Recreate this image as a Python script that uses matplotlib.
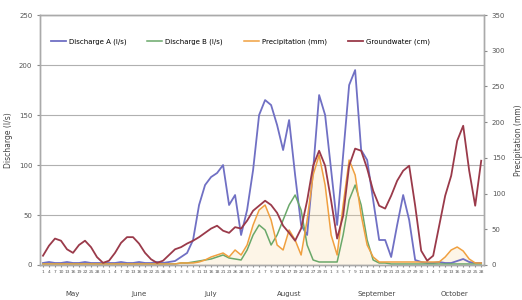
import matplotlib
matplotlib.use("Agg")
import matplotlib.pyplot as plt
import matplotlib.transforms as mtransforms
import numpy as np

# categories: day-of-month labels grouped by month
months = ["May", "June", "July", "August", "September", "October"]
days_may = [1, 4, 7, 10, 13, 16, 19, 22, 25, 28, 31]
days_jun = [1, 4, 7, 10, 13, 16, 19, 22, 25, 28, 30]
days_jul = [1, 3, 6, 8, 11, 13, 16, 18, 21, 23, 26, 28, 31]
days_aug = [2, 4, 7, 9, 12, 14, 17, 19, 22, 24, 27, 29, 31]
days_sep = [1, 3, 5, 7, 9, 11, 13, 15, 17, 19, 21, 23, 25, 27, 29, 30]
days_oct = [1, 4, 7, 10, 13, 16, 19, 22, 25, 28]
month_days = [days_may, days_jun, days_jul, days_aug, days_sep, days_oct]

series_names = ["Discharge A (l/s)", "Discharge B (l/s)",
                "Precipitation (mm)", "Groundwater (cm)"]

discharge_a = [2, 3, 2, 2, 3, 2, 2, 3, 2, 2, 2, 2, 2, 3, 2, 2, 3, 2, 2, 3,
               2, 3, 4, 8, 12, 25, 60, 80, 88, 92, 100, 60, 70, 30, 55, 95,
               150, 165, 160, 140, 115, 145, 90, 40, 30, 95, 170, 150, 95, 40,
               110, 180, 195, 115, 105, 65, 25, 25, 8, 40, 70, 45, 5, 3,
               2, 2, 3, 2, 2, 4, 6, 3, 2, 2]

discharge_b = [1, 1, 1, 1, 1, 1, 1, 1, 1, 1, 1, 1, 1, 1, 1, 1, 1, 1, 1, 1,
               1, 1, 1, 2, 2, 3, 4, 5, 6, 8, 10, 7, 6, 5, 15, 30,
               40, 35, 20, 30, 45, 60, 70, 55, 20, 5, 3, 3, 3, 3,
               30, 65, 80, 60, 25, 5, 2, 2, 1, 1, 1, 1, 1, 1,
               1, 1, 1, 1, 1, 1, 1, 1, 1, 1]

precipitation = [1, 1, 1, 1, 1, 1, 1, 1, 1, 1, 1, 1, 1, 1, 1, 1, 1, 1, 1, 1,
                 1, 1, 1, 2, 2, 2, 3, 5, 8, 10, 12, 8, 15, 10, 20, 40,
                 55, 60, 45, 20, 15, 35, 25, 10, 45, 90, 110, 80, 30, 10,
                 60, 105, 90, 50, 20, 8, 3, 3, 3, 3, 3, 3, 3, 3,
                 3, 3, 3, 8, 15, 18, 14, 6, 2, 2]

groundwater = [13, 27, 37, 34, 22, 17, 28, 34, 25, 11, 3, 6, 17, 31, 39, 39,
               30, 17, 8, 3, 6, 14, 22, 25, 30, 34, 39, 45, 51, 55, 48, 45,
               53, 51, 62, 76, 83, 90, 84, 73, 55, 45, 34, 51, 90, 139, 160,
               139, 90, 37, 69, 139, 163, 160, 135, 104, 83, 79, 97, 118, 132,
               139, 83, 20, 6, 13, 55, 97, 125, 174, 195, 132, 83, 146]

day_labels = [str(d) for grp in month_days for d in grp]
x = np.arange(len(day_labels))

fig = plt.figure(figsize=(5.22, 3.0), dpi=100)
ax = fig.add_axes([0.0766, 0.1167, 0.851, 0.833])
ax2 = ax.twinx()

c_blue = "#7070c4"
c_green = "#6aa86a"
c_orange = "#f0a040"
c_maroon = "#9a3a4a"

ax.fill_between(x, precipitation, color="#f8d8a0", alpha=0.25, lw=0)
ax.plot(x, discharge_a, color=c_blue, lw=1.3, label=series_names[0])
ax.plot(x, discharge_b, color=c_green, lw=1.1, label=series_names[1])
ax.plot(x, precipitation, color=c_orange, lw=1.1, label=series_names[2])
ax2.plot(x, groundwater, color=c_maroon, lw=1.3, label=series_names[3])

ax.set_xlim(-0.5, len(x) - 0.5)
ax.set_ylim(0, 250)
ax.set_yticks(np.arange(0, 251, 50))
ax2.set_ylim(0, 350)
ax2.set_yticks(np.arange(0, 351, 50))
ax.yaxis.grid(True, color="#b0b0b0", lw=0.8)
ax.set_axisbelow(True)

ax.set_xticks(x)
ax.set_xticklabels(day_labels, fontsize=3.2, color="#666666")
ax.tick_params(axis="x", length=1.5, pad=2, colors="#888888", labelcolor="#555555")
ax.tick_params(axis="y", labelsize=5, length=2, colors="#888888", labelcolor="#555555")
ax2.tick_params(axis="y", labelsize=5, length=2, colors="#888888", labelcolor="#555555")

for a in (ax, ax2):
    for s in a.spines.values():
        s.set_color("#aaaaaa")
        s.set_linewidth(1.0)

# month group labels under the day labels
trans = mtransforms.blended_transform_factory(ax.transData, ax.transAxes)
start = 0
for name, grp in zip(months, month_days):
    centre = start + (len(grp) - 1) / 2
    ax.text(centre, -0.115, name, transform=trans, ha="center", va="center",
            fontsize=5, color="#444444")
    start += len(grp)

ax.set_ylabel("Discharge (l/s)", fontsize=5.5, color="#444444", labelpad=4)
ax2.set_ylabel("Precipitation (mm)", fontsize=5.5, color="#444444", labelpad=6)

h1, l1 = ax.get_legend_handles_labels()
h2, l2 = ax2.get_legend_handles_labels()
ax.legend(h1 + h2, l1 + l2, loc="upper left", bbox_to_anchor=(0.01, 0.93),
          ncol=4, frameon=False, fontsize=5, handlelength=2.2,
          columnspacing=3.0, handletextpad=0.4)

fig.savefig("out.png", dpi=100)
